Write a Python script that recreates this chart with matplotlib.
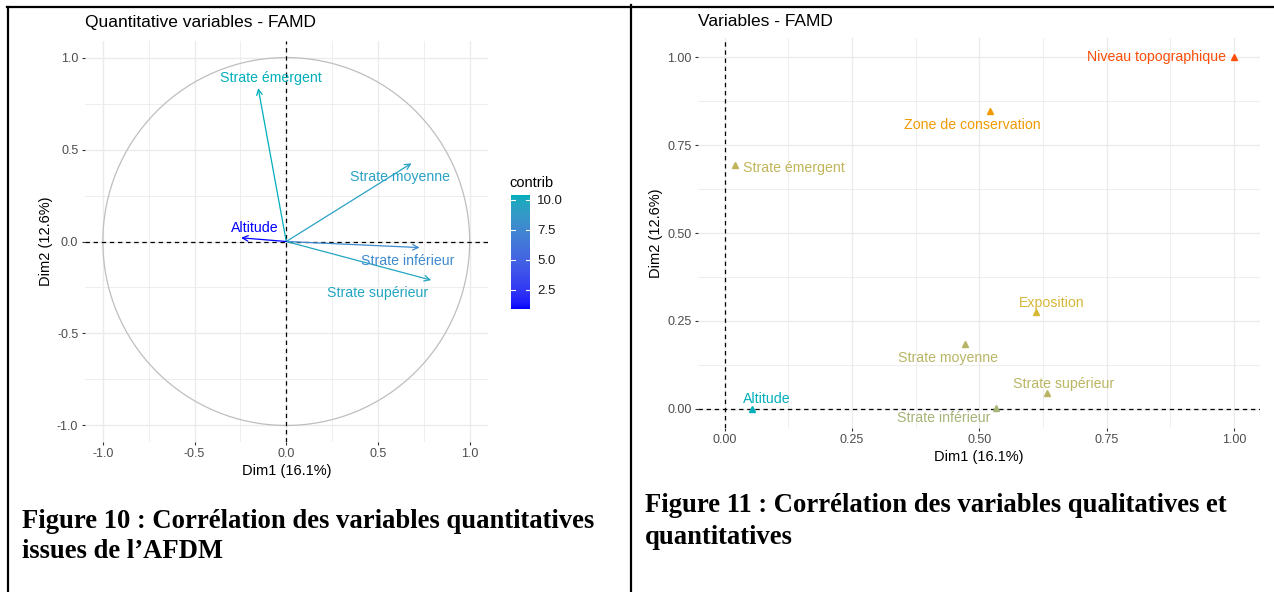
import matplotlib
matplotlib.use("Agg")
import matplotlib.pyplot as plt
import matplotlib.colors as mcolors
from matplotlib.lines import Line2D
from matplotlib.patches import Circle
import numpy as np

# quantitative variables: correlation with Dim1 / Dim2, and contribution (%)
quanti_names = ["Strate émergent", "Strate moyenne", "Strate inférieur",
                "Strate supérieur", "Altitude"]
quanti_dim1 = [-0.153, 0.683, 0.727, 0.790, -0.246]
quanti_dim2 = [0.834, 0.425, -0.033, -0.210, 0.020]
quanti_contrib = [10.4, 9.4, 7.7, 9.7, 0.9]
# repelled label positions for the arrows
quanti_lab_x = [-0.084, 0.62, 0.66, 0.50, -0.17]
quanti_lab_y = [0.89, 0.35, -0.106, -0.28, 0.073]

# all variables (qualitative + quantitative) on Dim1 / Dim2
all_names = ["Niveau topographique", "Zone de conservation", "Strate émergent",
             "Exposition", "Strate moyenne", "Strate supérieur",
             "Strate inférieur", "Altitude"]
all_dim1 = [1.000, 0.521, 0.020, 0.611, 0.472, 0.633, 0.533, 0.054]
all_dim2 = [1.000, 0.847, 0.693, 0.276, 0.185, 0.046, 0.004, 0.000]
all_contrib = [29.1, 19.8, 10.4, 13.0, 9.4, 9.7, 7.7, 0.9]
all_lab_x = [0.984, 0.486, 0.036, 0.643, 0.438, 0.666, 0.43, 0.083]
all_lab_y = [1.000, 0.807, 0.686, 0.300, 0.146, 0.072, -0.025, 0.029]
all_lab_ha = ["right", "center", "left", "center", "center", "center", "center", "center"]

x_ticks_left = [-1.0, -0.5, 0.0, 0.5, 1.0]
x_ticks_right = [0.0, 0.25, 0.5, 0.75, 1.0]
cbar_ticks = [2.5, 5.0, 7.5, 10.0]

W, H = 1274, 592
SANS = "Liberation Sans"
TICK_C = "#4D4D4D"

# --- Lab colour interpolation (like ggplot gradients) ---
M = np.array([[0.4124, 0.3576, 0.1805],
              [0.2126, 0.7152, 0.0722],
              [0.0193, 0.1192, 0.9505]])
WHITE = np.array([0.95047, 1.0, 1.08883])


def to_lab(c):
    c = np.asarray(mcolors.to_rgb(c))
    lin = np.where(c <= 0.04045, c / 12.92, ((c + 0.055) / 1.055) ** 2.4)
    xyz = M @ lin / WHITE
    f = np.where(xyz > 0.008856, np.cbrt(xyz), 7.787 * xyz + 16 / 116)
    return np.array([116 * f[1] - 16, 500 * (f[0] - f[1]), 200 * (f[1] - f[2])])


def from_lab(lab):
    fy = (lab[0] + 16) / 116
    f = np.array([fy + lab[1] / 500, fy, fy - lab[2] / 200])
    xyz = np.where(f ** 3 > 0.008856, f ** 3, (f - 16 / 116) / 7.787) * WHITE
    lin = np.linalg.solve(M, xyz)
    lin = np.clip(lin, 0, None)
    c = np.where(lin <= 0.0031308, 12.92 * lin, 1.055 * lin ** (1 / 2.4) - 0.055)
    return np.clip(c, 0, 1)


def lab_cmap(colors, n=256):
    labs = [to_lab(c) for c in colors]
    out = []
    for t in np.linspace(0, 1, n):
        s = t * (len(labs) - 1)
        i = min(int(s), len(labs) - 2)
        u = s - i
        out.append(from_lab(labs[i] * (1 - u) + labs[i + 1] * u))
    return mcolors.ListedColormap(out)


cmap_left = lab_cmap(["#0000FF", "#00AFBB"])
cmap_right = lab_cmap(["#00AFBB", "#E7B800", "#FC4E07"])
norm_left = mcolors.Normalize(min(quanti_contrib), max(quanti_contrib))
norm_right = mcolors.Normalize(min(all_contrib), max(all_contrib))


def px_axes(fig, x0, y0, x1, y1):
    return fig.add_axes([x0 / W, 1 - y1 / H, (x1 - x0) / W, (y1 - y0) / H])


def style_axes(ax, major, minor):
    ax.set_facecolor("white")
    for s in ax.spines.values():
        s.set_visible(False)
    ax.set_xticks(major)
    ax.set_yticks(major)
    ax.set_xticks(minor, minor=True)
    ax.set_yticks(minor, minor=True)
    ax.grid(True, which="major", color="#EBEBEB", lw=1.0, zorder=0)
    ax.grid(True, which="minor", color="#EBEBEB", lw=0.6, zorder=0)
    ax.tick_params(which="major", length=2.5, width=0.8, color="#333333",
                   labelcolor=TICK_C, labelsize=9, pad=2)
    ax.tick_params(which="minor", length=0)
    ax.set_axisbelow(True)


fig = plt.figure(figsize=(W / 100, H / 100), dpi=100)

# ---------------- left: correlation circle ----------------
ax1 = px_axes(fig, 84.5, 41, 488, 442)
style_axes(ax1, x_ticks_left, [-0.75, -0.25, 0.25, 0.75])
ax1.set_xlim(-1.1, 1.1)
ax1.set_ylim(-1.09, 1.09)
ax1.set_xticklabels([f"{v:.1f}" for v in x_ticks_left], fontfamily=SANS)
ax1.set_yticklabels([f"{v:.1f}" for v in x_ticks_left], fontfamily=SANS)
ax1.add_patch(Circle((0, 0), 1.0, fill=False, ec="#BEBEBE", lw=0.9, zorder=1))
ax1.axhline(0, color="black", ls=(0, (3.5, 3.0)), lw=0.9, zorder=2)
ax1.axvline(0, color="black", ls=(0, (3.5, 3.0)), lw=0.9, zorder=2)
for name, x, y, c, lx, ly in zip(quanti_names, quanti_dim1, quanti_dim2,
                                 quanti_contrib, quanti_lab_x, quanti_lab_y):
    col = cmap_left(norm_left(c))
    ax1.annotate("", xy=(x, y), xytext=(0, 0),
                 arrowprops=dict(arrowstyle="->", color=col, lw=0.9,
                                 shrinkA=0, shrinkB=0, mutation_scale=10),
                 zorder=3)
    ax1.text(lx, ly, name, color=col, fontsize=10.2, fontfamily=SANS,
             ha="center", va="center", zorder=4)
ax1.set_xlabel("Dim1 (16.1%)", fontsize=10.5, fontfamily=SANS, labelpad=3)
ax1.set_ylabel("Dim2 (12.6%)", fontsize=10.5, fontfamily=SANS, labelpad=3)
fig.text(85 / W, 1 - 22 / H, "Quantitative variables - FAMD", fontsize=12.5,
         fontfamily=SANS, va="center", ha="left")

# colour bar for contrib
cax = px_axes(fig, 511, 195, 530, 309)
grad = np.linspace(norm_left.vmin, norm_left.vmax, 256).reshape(-1, 1)
cax.imshow(grad, aspect="auto", cmap=cmap_left, norm=norm_left, origin="lower",
           extent=(0, 1, norm_left.vmin, norm_left.vmax))
cax.set_xlim(0, 1)
cax.set_ylim(norm_left.vmin, norm_left.vmax)
for s in cax.spines.values():
    s.set_visible(False)
cax.set_xticks([])
cax.yaxis.tick_right()
cax.set_yticks(cbar_ticks)
cax.set_yticklabels([f"{v:.1f}" for v in cbar_ticks], fontfamily=SANS)
cax.tick_params(axis="y", length=0, labelsize=9.5, labelcolor="#1A1A1A", pad=5)
for v in cbar_ticks:
    cax.plot([0, 0.2], [v, v], color="white", lw=0.8)
    cax.plot([0.8, 1], [v, v], color="white", lw=0.8)
fig.text(509 / W, 1 - 183 / H, "contrib", fontsize=10.5, fontfamily=SANS,
         va="center", ha="left")

# ---------------- right: all variables ----------------
ax2 = px_axes(fig, 698, 38, 1259.6, 428)
style_axes(ax2, x_ticks_right, [0.125, 0.375, 0.625, 0.875])
ax2.set_xlim(-0.052, 1.05)
ax2.set_ylim(-0.054, 1.054)
ax2.set_xticklabels([f"{v:.2f}" for v in x_ticks_right], fontfamily=SANS)
ax2.set_yticklabels([f"{v:.2f}" for v in x_ticks_right], fontfamily=SANS)
ax2.axhline(0, color="black", ls=(0, (3.5, 3.0)), lw=0.9, zorder=2)
ax2.axvline(0, color="black", ls=(0, (3.5, 3.0)), lw=0.9, zorder=2)
for name, x, y, c, lx, ly, ha in zip(all_names, all_dim1, all_dim2, all_contrib,
                                     all_lab_x, all_lab_y, all_lab_ha):
    col = cmap_right(norm_right(c))
    ax2.plot(x, y, marker="^", ms=4, color=col, ls="none", zorder=3)
    ax2.text(lx, ly, name, color=col, fontsize=10.2, fontfamily=SANS,
             ha=ha, va="center", zorder=4)
ax2.set_xlabel("Dim1 (16.1%)", fontsize=10.5, fontfamily=SANS, labelpad=3)
ax2.set_ylabel("Dim2 (12.6%)", fontsize=10.5, fontfamily=SANS, labelpad=3)
fig.text(698 / W, 1 - 22 / H, "Variables - FAMD", fontsize=12.5,
         fontfamily=SANS, va="center", ha="left")

# ---------------- captions ----------------
cap = dict(fontsize=19.2, fontfamily="Liberation Serif", fontweight="bold",
           va="center", ha="left")
fig.text(22 / W, 1 - 522 / H, "Figure 10 : Corrélation des variables quantitatives", **cap)
fig.text(22 / W, 1 - 552 / H, "issues de l’AFDM", **cap)
fig.text(645 / W, 1 - 506 / H, "Figure 11 : Corrélation des variables qualitatives et", **cap)
fig.text(645 / W, 1 - 537 / H, "quantitatives", **cap)

# ---------------- frame lines ----------------
def frame_line(x0, y0, x1, y1):
    fig.add_artist(Line2D([x0 / W, x1 / W], [1 - y0 / H, 1 - y1 / H],
                          transform=fig.transFigure, color="black", lw=1.6))


frame_line(8, 7, 8, 592)
frame_line(7, 7, 631, 7)
frame_line(631, 5, 631, 592)
frame_line(631, 7, 1274, 7)

fig.savefig("out.png", dpi=100)
